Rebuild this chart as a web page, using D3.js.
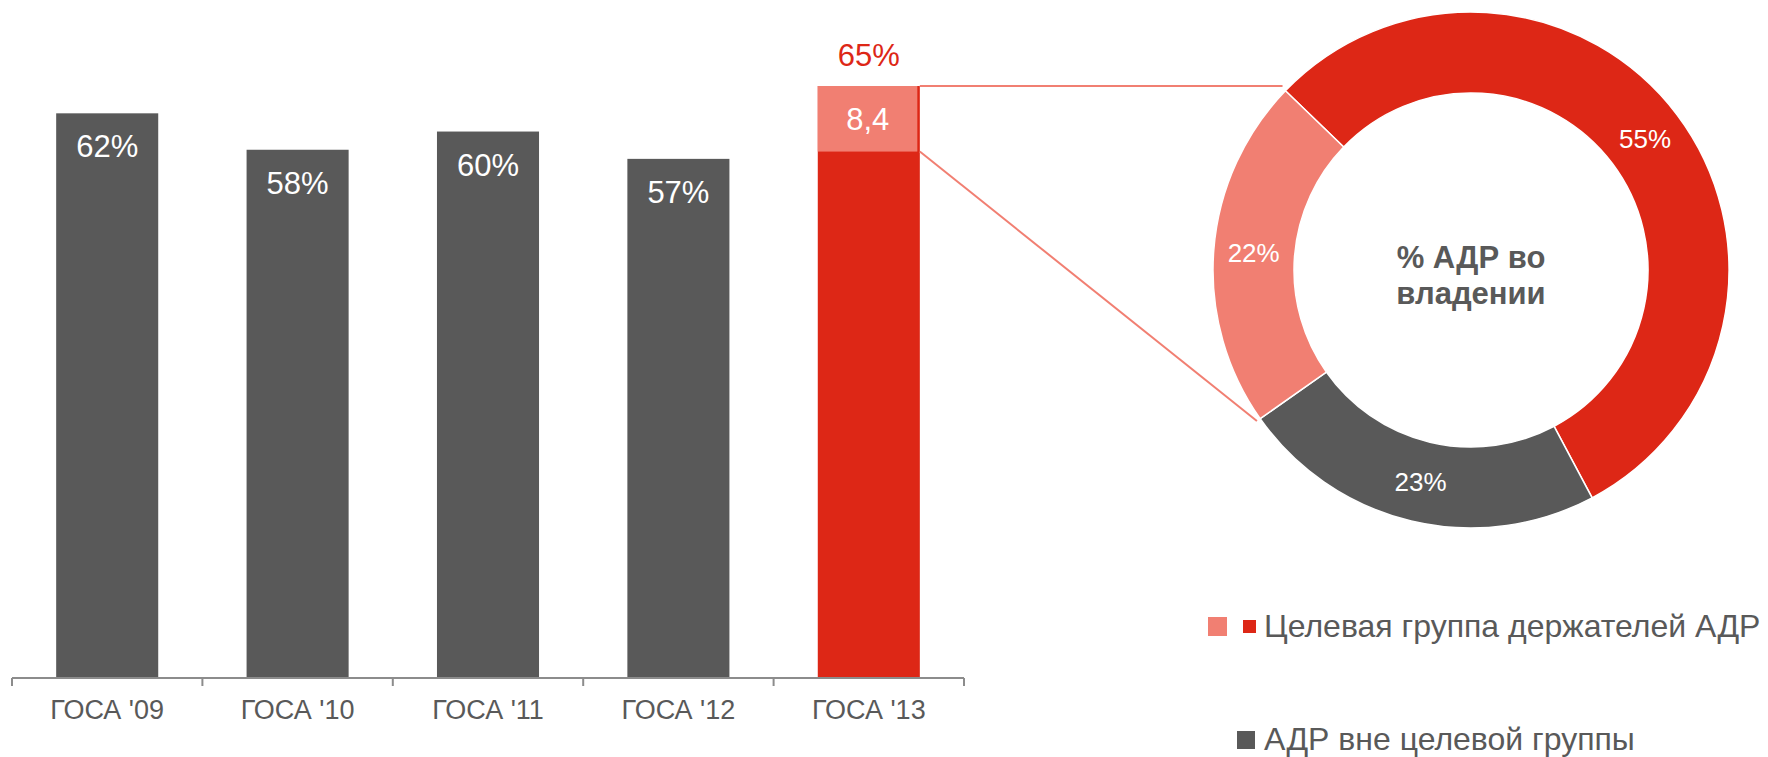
<!DOCTYPE html>
<html>
<head>
<meta charset="utf-8">
<script src="https://cdn.jsdelivr.net/npm/d3@7"></script>
<style>
  body { margin: 0; background: #fff; }
  svg { display: block; font-family: "Liberation Sans", Arial, sans-serif; }
</style>
</head>
<body>
<script>
// bar data
var years = ["ГОСА '09", "ГОСА '10", "ГОСА '11", "ГОСА '12", "ГОСА '13"];
var shares = [62, 58, 60, 57, 65];
var topSegment = 7.2;          // light part on top of last bar
var topSegmentLabel = "8,4";

// donut data
var donutNames = ["Целевая группа", "АДР вне целевой группы", "Целевая группа (светлая)"];
var donutValues = [55, 23, 22];

var legendLabels = ["Целевая группа держателей АДР", "АДР вне целевой группы"];

var grey = "#595959", red = "#dd2716", pink = "#f17f72", axisGrey = "#8c8c8c";

var svg = d3.select("body").append("svg")
  .attr("width", 1768)
  .attr("height", 757);

// Scales
var x = d3.scaleBand()
  .domain(years)
  .range([12, 964])
  .paddingInner(0.464)
  .paddingOuter(0.232);

var baseY = 678;
var y = d3.scaleLinear().domain([0, 65]).range([baseY, 86]);

var last = years.length - 1;

// Bars
svg.selectAll(".bar")
  .data(shares)
  .enter().append("rect")
    .attr("class", "bar")
    .attr("x", (d, i) => x(years[i]))
    .attr("y", d => y(d))
    .attr("width", x.bandwidth())
    .attr("height", d => baseY - y(d))
    .attr("fill", (d, i) => i == last ? red : grey);

// light segment on top of the last bar
var segTop = y(shares[last]);
var segBottom = y(shares[last] - topSegment);
svg.append("rect")
  .attr("x", x(years[last]))
  .attr("y", segTop)
  .attr("width", x.bandwidth() - 2.5)
  .attr("height", segBottom - segTop)
  .attr("fill", pink);

// Bar labels
svg.selectAll(".barlabel")
  .data(shares.slice(0, last))
  .enter().append("text")
    .attr("class", "barlabel")
    .attr("x", (d, i) => x(years[i]) + x.bandwidth() / 2)
    .attr("y", d => y(d) + 44)
    .attr("text-anchor", "middle")
    .attr("font-size", 31)
    .attr("fill", "#fff")
    .text(d => d + "%");

svg.append("text")
  .attr("x", x(years[last]) + x.bandwidth() / 2)
  .attr("y", segTop - 20)
  .attr("text-anchor", "middle")
  .attr("font-size", 31)
  .attr("fill", red)
  .text(shares[last] + "%");

svg.append("text")
  .attr("x", x(years[last]) + x.bandwidth() / 2 - 1)
  .attr("y", (segTop + segBottom) / 2 + 11)
  .attr("text-anchor", "middle")
  .attr("font-size", 31)
  .attr("fill", "#fff")
  .text(topSegmentLabel);

// X axis (labels only, ticks drawn at band edges)
var xAxis = d3.axisBottom(x).tickSize(0).tickPadding(22);
var gx = svg.append("g")
  .attr("transform", `translate(0, ${baseY})`)
  .call(xAxis);
gx.select(".domain").remove();
gx.selectAll("text")
  .attr("font-size", 27)
  .attr("font-family", "Liberation Sans, Arial, sans-serif")
  .attr("fill", grey);

svg.append("line")
  .attr("x1", x.range()[0]).attr("x2", x.range()[1])
  .attr("y1", baseY).attr("y2", baseY)
  .attr("stroke", axisGrey)
  .attr("stroke-width", 2);

var edges = d3.range(years.length + 1).map(i => x.range()[0] + i * x.step());
svg.selectAll(".edge")
  .data(edges)
  .enter().append("line")
    .attr("class", "edge")
    .attr("x1", d => d).attr("x2", d => d)
    .attr("y1", baseY).attr("y2", baseY + 8)
    .attr("stroke", axisGrey)
    .attr("stroke-width", 2);

// Donut
var cx = 1471, cy = 270, outerR = 258, innerR = 177;
var start = -46 * Math.PI / 180;

var pie = d3.pie().sort(null)
  .startAngle(start)
  .endAngle(start + 2 * Math.PI);
var arcs = pie(donutValues);
var arc = d3.arc().innerRadius(innerR).outerRadius(outerR);
var labelArc = d3.arc().innerRadius(218).outerRadius(218);

var donut = svg.append("g")
  .attr("transform", `translate(${cx}, ${cy})`);

var donutColors = [red, grey, pink];

donut.selectAll("path")
  .data(arcs)
  .enter().append("path")
    .attr("d", arc)
    .attr("fill", (d, i) => donutColors[i])
    .attr("stroke", "#fff")
    .attr("stroke-width", 1.5);

donut.selectAll(".dlabel")
  .data(arcs)
  .enter().append("text")
    .attr("class", "dlabel")
    .attr("transform", d => `translate(${labelArc.centroid(d)})`)
    .attr("dy", "0.35em")
    .attr("text-anchor", "middle")
    .attr("font-size", 26)
    .attr("fill", "#fff")
    .text(d => d.value + "%");

donut.append("text")
  .attr("text-anchor", "middle")
  .attr("font-size", 31)
  .attr("font-weight", "bold")
  .attr("fill", grey)
  .selectAll("tspan")
  .data(["% АДР во", "владении"])
  .enter().append("tspan")
    .attr("x", 0)
    .attr("y", (d, i) => -2 + i * 36)
    .text(d => d);

// Connector lines from the last bar's light part to the light slice
var light = arcs[2];
function edgePoint(a, r) {
  return [cx + r * Math.sin(a), cy - r * Math.cos(a)];
}
var pA = edgePoint(light.endAngle, outerR + 4);
var pB = edgePoint(light.startAngle, outerR + 4);
var barRight = x(years[last]) + x.bandwidth();

svg.append("line")
  .attr("x1", barRight).attr("y1", segTop)
  .attr("x2", pA[0]).attr("y2", segTop)
  .attr("stroke", pink).attr("stroke-width", 2);

svg.append("line")
  .attr("x1", barRight).attr("y1", segBottom)
  .attr("x2", pB[0]).attr("y2", pB[1])
  .attr("stroke", pink).attr("stroke-width", 2);

// Legend
var legend = svg.append("g");
legend.append("rect")
  .attr("x", 1208).attr("y", 617).attr("width", 19).attr("height", 19)
  .attr("fill", pink);
legend.append("rect")
  .attr("x", 1243).attr("y", 620).attr("width", 13).attr("height", 13)
  .attr("fill", red);
legend.append("rect")
  .attr("x", 1237).attr("y", 731).attr("width", 18).attr("height", 18)
  .attr("fill", grey);

legend.selectAll(".ltext")
  .data(legendLabels)
  .enter().append("text")
    .attr("class", "ltext")
    .attr("x", 1264)
    .attr("y", (d, i) => i == 0 ? 637 : 750)
    .attr("font-size", 32)
    .attr("fill", grey)
    .text(d => d);
</script>
</body>
</html>
